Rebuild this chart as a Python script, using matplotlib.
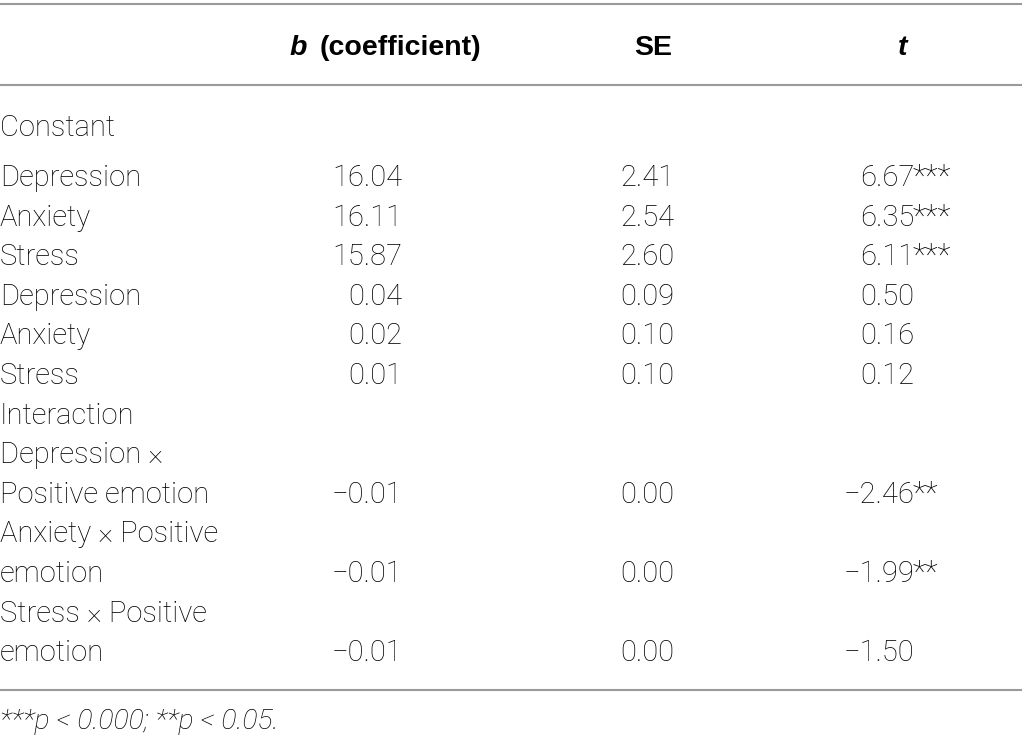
import matplotlib
matplotlib.use("Agg")
import matplotlib.pyplot as plt

# ---- data ----
row_labels = ["Depression", "Anxiety", "Stress", "Depression", "Anxiety", "Stress",
              "Depression ×\nPositive emotion", "Anxiety × Positive\nemotion",
              "Stress × Positive\nemotion"]
b_values = ["16.04", "16.11", "15.87", "0.04", "0.02", "0.01", "−0.01", "−0.01", "−0.01"]
se_values = ["2.41", "2.54", "2.60", "0.09", "0.10", "0.10", "0.00", "0.00", "0.00"]
t_values = ["6.67", "6.35", "6.11", "0.50", "0.16", "0.12", "−2.46", "−1.99", "−1.50"]
t_stars = ["***", "***", "***", "", "", "", "**", "**", ""]
section_before = {0: "Constant", 6: "Interaction"}
footnote = "***p < 0.000; **p < 0.05."

W, H = 1022, 748
fig = plt.figure(figsize=(W / 100, H / 100), dpi=100)
ax = fig.add_axes([0, 0, 1, 1])
ax.set_xlim(0, W)
ax.set_ylim(H, 0)
ax.axis("off")

FONT = ["Roboto", "DejaVu Sans"]
HFONT = ["Liberation Sans", "DejaVu Sans"]
FS = 21
WT = "light"
col = "#000000"
line_col = "#9a9a9a"

def txt(x, y, s, ha="left", family=FONT, **kw):
    kw.setdefault("fontsize", FS)
    kw.setdefault("fontweight", WT)
    ax.text(x, y, s, fontfamily=family, color=col, va="baseline", ha=ha, **kw)

for y in (4, 85, 690):
    ax.plot([0, W], [y, y], color=line_col, lw=1.5, solid_capstyle="butt")

# header
hy = 55
HFS = 20.5
txt(290, hy, "b", family=HFONT, fontsize=HFS, fontweight="bold", fontstyle="italic")
txt(320, hy, "(coefficient)", family=HFONT, fontsize=HFS, fontweight="bold")
txt(653, hy, "SE", ha="center", family=HFONT, fontsize=HFS, fontweight="bold")
txt(903, hy, "t", ha="center", family=HFONT, fontsize=HFS, fontweight="bold",
    fontstyle="italic")

LH = 39.6
y = 136
for i, lab in enumerate(row_labels):
    if i in section_before:
        txt(0, y, section_before[i])
        y += 50 if i == 0 else LH
    parts = lab.split("\n")
    for p in parts[:-1]:
        txt(0, y, p)
        y += LH
    txt(0, y, parts[-1])
    txt(402, y, b_values[i], ha="right")
    txt(674, y, se_values[i], ha="right")
    txt(914, y, t_values[i], ha="right")
    if t_stars[i]:
        txt(913, y, t_stars[i], fontsize=22)
    y += LH

txt(0, 729, footnote, fontsize=20.5, fontstyle="italic")

fig.savefig("out.png", dpi=100)
